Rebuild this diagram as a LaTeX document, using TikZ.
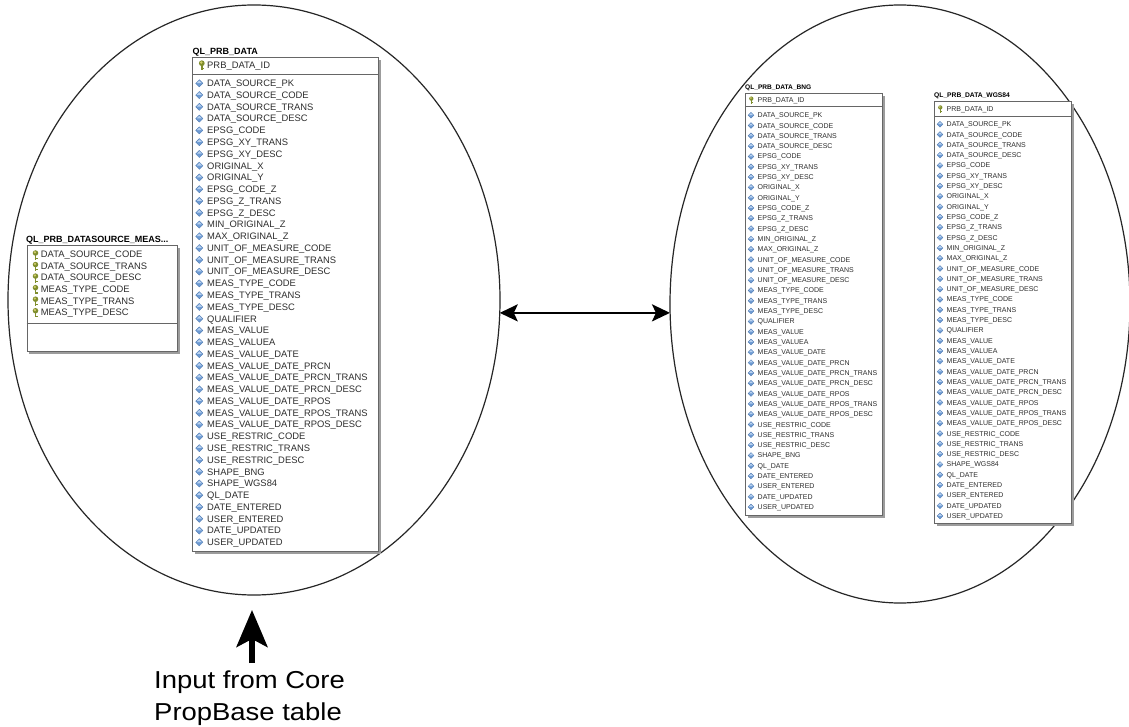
\documentclass[tikz,border=0pt]{standalone}
\usepackage{fontspec}
\setmainfont{Liberation Sans}
\usetikzlibrary{arrows.meta,shapes.geometric,shadows}

\definecolor{boxline}{HTML}{666666}
\definecolor{shadowgrey}{HTML}{9C9C9C}
\definecolor{gemblue}{HTML}{6E9BD3}
\definecolor{gemlight}{HTML}{B9D2F0}
\definecolor{gemdark}{HTML}{4A76AE}
\definecolor{keyolive}{HTML}{7F8E2E}
\definecolor{keylight}{HTML}{CFCB6A}
\definecolor{ovalline}{HTML}{262626}
\definecolor{fieldink}{HTML}{2E2E2E}

\tikzset{
  oval/.style={ellipse, draw=ovalline, line width=1.2pt, inner sep=0pt, outer sep=0pt},
  tablebox/.style={draw=boxline, fill=white, line width=0.7pt, inner sep=0pt, anchor=north west,
    general shadow={fill=shadowgrey, shadow xshift=2.6pt, shadow yshift=-2.6pt}},
  sepline/.style={draw=boxline, line width=0.7pt},
  fieldtext/.style={anchor=base west, inner sep=0pt, text=fieldink},
  titletext/.style={anchor=base west, inner sep=0pt, text=black},
  labeltext/.style={anchor=base west, inner sep=0pt, text=black, font=\fontsize{24.5}{30}\selectfont},
  dblarrow/.style={line width=2.6pt, {Stealth[length=18pt,width=17pt,inset=4pt]}-{Stealth[length=18pt,width=17pt,inset=4pt]}},
  bigarrow/.style={line width=5.5pt, -{Stealth[length=37pt,width=31pt,inset=8pt]}, shorten >=15pt},
  % small blue diamond marking an ordinary column
  pics/gem/.style={code={
    \fill[gemblue, draw=gemdark, line width=0.3pt] (-#1,0) -- (0,#1) -- (#1,0) -- (0,-#1) -- cycle;
    \fill[gemlight] (-0.7*#1,0.05*#1) -- (0,0.75*#1) -- (0.7*#1,0.05*#1) -- cycle;
  }},
  % small olive key marking a key column
  pics/keyicon/.style={code={
    \begin{scope}[scale=#1]
      \fill[keyolive] (-0.8pt,-0.2pt) rectangle (0.8pt,-4.4pt);
      \fill[keyolive] (0.8pt,-2.9pt) rectangle (2.0pt,-3.8pt);
      \fill[keyolive] (0,1.3pt) circle (2.4pt);
      \fill[keylight] (-0.5pt,1.9pt) circle (1.1pt);
    \end{scope}
  }},
}

% one column row per list entry: name, gem x, text x, first y, step, font size, gem size, list
\newcommand\fieldrows[8]{%
  \foreach \f [count=\k from 0] in {#8} {
    \pgfmathsetmacro\yy{#4+\k*#5}
    \pic at (#2,\yy) {gem=#7};
    \node[fieldtext, font=\fontsize{#6}{#6}\selectfont] (#1-\k) at (#3,{\yy+0.358*#6}) {\f};
  }%
}

\begin{document}
\begin{tikzpicture}[x=1pt,y=-1pt]
\useasboundingbox (0,0) rectangle (1129,727);
\fill[white] (0,0) rectangle (1129,727);

% the two groups of tables
\node[oval, minimum width=492pt, minimum height=590pt] (leftoval) at (254,300) {};
\node[oval, minimum width=460pt, minimum height=598pt] (rightoval) at (900,304) {};

% ---- QL_PRB_DATASOURCE_MEAS... ----
\node[tablebox, minimum width=150.5pt, minimum height=106pt] (srcbox) at (26.5,245) {};
\node[titletext, font=\bfseries\fontsize{9}{9}\selectfont] (srctitle) at (26,242.2) {QL\_PRB\_DATASOURCE\_MEAS...};
\foreach \f [count=\k from 0] in {DATA\_SOURCE\_CODE, DATA\_SOURCE\_TRANS, DATA\_SOURCE\_DESC,
    MEAS\_TYPE\_CODE, MEAS\_TYPE\_TRANS, MEAS\_TYPE\_DESC} {
  \pgfmathsetmacro\yy{254.5+\k*11.55}
  \pic at (35.5,\yy) {keyicon=1.15};
  \node[fieldtext, font=\fontsize{9.4}{9.4}\selectfont] (src-\k) at (40.7,{\yy+3.37}) {\f};
}
\draw[sepline] ([yshift=-78pt]srcbox.north west) -- ([yshift=-78pt]srcbox.north east);

% ---- QL_PRB_DATA ----
\node[tablebox, minimum width=186pt, minimum height=494pt] (mainbox) at (192,57) {};
\node[titletext, font=\bfseries\fontsize{9}{9}\selectfont] (maintitle) at (192.5,54.2) {QL\_PRB\_DATA};
\pic at (201.8,64.8) {keyicon=1.2};
\node[fieldtext, font=\fontsize{9.4}{9.4}\selectfont] (mainkey) at (207,68.2) {PRB\_DATA\_ID};
\draw[sepline] ([yshift=-17.5pt]mainbox.north west) -- ([yshift=-17.5pt]mainbox.north east);
\fieldrows{main}{199.3}{207}{83.3}{11.77}{9.4}{3.6pt}{DATA\_SOURCE\_PK, DATA\_SOURCE\_CODE,
  DATA\_SOURCE\_TRANS, DATA\_SOURCE\_DESC, EPSG\_CODE, EPSG\_XY\_TRANS, EPSG\_XY\_DESC,
  ORIGINAL\_X, ORIGINAL\_Y, EPSG\_CODE\_Z, EPSG\_Z\_TRANS, EPSG\_Z\_DESC, MIN\_ORIGINAL\_Z,
  MAX\_ORIGINAL\_Z, UNIT\_OF\_MEASURE\_CODE, UNIT\_OF\_MEASURE\_TRANS, UNIT\_OF\_MEASURE\_DESC,
  MEAS\_TYPE\_CODE, MEAS\_TYPE\_TRANS, MEAS\_TYPE\_DESC, QUALIFIER, MEAS\_VALUE, MEAS\_VALUEA,
  MEAS\_VALUE\_DATE, MEAS\_VALUE\_DATE\_PRCN, MEAS\_VALUE\_DATE\_PRCN\_TRANS,
  MEAS\_VALUE\_DATE\_PRCN\_DESC, MEAS\_VALUE\_DATE\_RPOS, MEAS\_VALUE\_DATE\_RPOS\_TRANS,
  MEAS\_VALUE\_DATE\_RPOS\_DESC, USE\_RESTRIC\_CODE, USE\_RESTRIC\_TRANS, USE\_RESTRIC\_DESC,
  SHAPE\_BNG, SHAPE\_WGS84, QL\_DATE, DATE\_ENTERED, USER\_ENTERED, DATE\_UPDATED, USER\_UPDATED}

% ---- QL_PRB_DATA_BNG ----
\node[tablebox, minimum width=137pt, minimum height=422pt] (bngbox) at (745,92.7) {};
\node[titletext, font=\bfseries\fontsize{6.6}{6.6}\selectfont] (bngtitle) at (745,89.3) {QL\_PRB\_DATA\_BNG};
\pic at (751.3,99.8) {keyicon=0.9};
\node[fieldtext, font=\fontsize{7}{7}\selectfont] (bngkey) at (757.5,102.5) {PRB\_DATA\_ID};
\draw[sepline] ([yshift=-14pt]bngbox.north west) -- ([yshift=-14pt]bngbox.north east);
\fieldrows{bng}{751}{757.5}{115.2}{10.31}{7}{2.9pt}{DATA\_SOURCE\_PK, DATA\_SOURCE\_CODE,
  DATA\_SOURCE\_TRANS, DATA\_SOURCE\_DESC, EPSG\_CODE, EPSG\_XY\_TRANS, EPSG\_XY\_DESC,
  ORIGINAL\_X, ORIGINAL\_Y, EPSG\_CODE\_Z, EPSG\_Z\_TRANS, EPSG\_Z\_DESC, MIN\_ORIGINAL\_Z,
  MAX\_ORIGINAL\_Z, UNIT\_OF\_MEASURE\_CODE, UNIT\_OF\_MEASURE\_TRANS, UNIT\_OF\_MEASURE\_DESC,
  MEAS\_TYPE\_CODE, MEAS\_TYPE\_TRANS, MEAS\_TYPE\_DESC, QUALIFIER, MEAS\_VALUE, MEAS\_VALUEA,
  MEAS\_VALUE\_DATE, MEAS\_VALUE\_DATE\_PRCN, MEAS\_VALUE\_DATE\_PRCN\_TRANS,
  MEAS\_VALUE\_DATE\_PRCN\_DESC, MEAS\_VALUE\_DATE\_RPOS, MEAS\_VALUE\_DATE\_RPOS\_TRANS,
  MEAS\_VALUE\_DATE\_RPOS\_DESC, USE\_RESTRIC\_CODE, USE\_RESTRIC\_TRANS, USE\_RESTRIC\_DESC,
  SHAPE\_BNG, QL\_DATE, DATE\_ENTERED, USER\_ENTERED, DATE\_UPDATED, USER\_UPDATED}

% ---- QL_PRB_DATA_WGS84 ----
\node[tablebox, minimum width=137pt, minimum height=422pt] (wgsbox) at (934,101) {};
\node[titletext, font=\bfseries\fontsize{6.7}{6.7}\selectfont] (wgstitle) at (934,97.8) {QL\_PRB\_DATA\_WGS84};
\pic at (940.3,108.6) {keyicon=0.9};
\node[fieldtext, font=\fontsize{7}{7}\selectfont] (wgskey) at (946.5,111.5) {PRB\_DATA\_ID};
\draw[sepline] ([yshift=-15.5pt]wgsbox.north west) -- ([yshift=-15.5pt]wgsbox.north east);
\fieldrows{wgs}{940}{946.5}{124.2}{10.31}{7}{2.9pt}{DATA\_SOURCE\_PK, DATA\_SOURCE\_CODE,
  DATA\_SOURCE\_TRANS, DATA\_SOURCE\_DESC, EPSG\_CODE, EPSG\_XY\_TRANS, EPSG\_XY\_DESC,
  ORIGINAL\_X, ORIGINAL\_Y, EPSG\_CODE\_Z, EPSG\_Z\_TRANS, EPSG\_Z\_DESC, MIN\_ORIGINAL\_Z,
  MAX\_ORIGINAL\_Z, UNIT\_OF\_MEASURE\_CODE, UNIT\_OF\_MEASURE\_TRANS, UNIT\_OF\_MEASURE\_DESC,
  MEAS\_TYPE\_CODE, MEAS\_TYPE\_TRANS, MEAS\_TYPE\_DESC, QUALIFIER, MEAS\_VALUE, MEAS\_VALUEA,
  MEAS\_VALUE\_DATE, MEAS\_VALUE\_DATE\_PRCN, MEAS\_VALUE\_DATE\_PRCN\_TRANS,
  MEAS\_VALUE\_DATE\_PRCN\_DESC, MEAS\_VALUE\_DATE\_RPOS, MEAS\_VALUE\_DATE\_RPOS\_TRANS,
  MEAS\_VALUE\_DATE\_RPOS\_DESC, USE\_RESTRIC\_CODE, USE\_RESTRIC\_TRANS, USE\_RESTRIC\_DESC,
  SHAPE\_WGS84, QL\_DATE, DATE\_ENTERED, USER\_ENTERED, DATE\_UPDATED, USER\_UPDATED}

% link between the two groups
\draw[dblarrow] (leftoval.-3) -- (leftoval.-3 -| rightoval.west);

% input arrow and its caption
\node[labeltext] (inputA) at (154,688.3) {\scalebox{1.12}[1]{Input from Core}};
\node[labeltext] (inputB) at (154,720) {\scalebox{1.12}[1]{PropBase table}};
\coordinate (arrowfoot) at (252,663);
\draw[bigarrow] (arrowfoot) -- (arrowfoot |- leftoval.south);
\end{tikzpicture}
\end{document}
